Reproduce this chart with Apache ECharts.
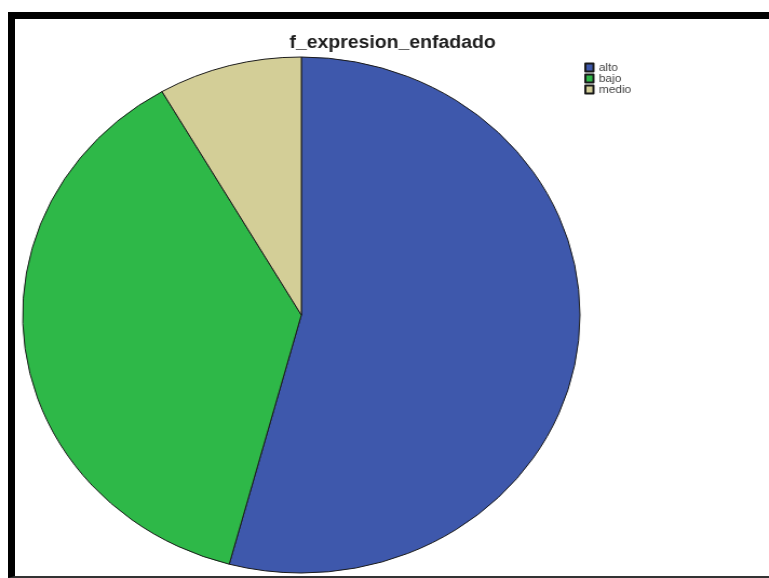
<!DOCTYPE html>
<html>
<head>
<meta charset="utf-8">
<script src="https://cdn.jsdelivr.net/npm/echarts@6/dist/echarts.min.js"></script>
<style>
  html, body { margin: 0; padding: 0; background: #ffffff; width: 769px; height: 578px; overflow: hidden; }
  #wrap { position: absolute; left: 0; top: 0; width: 769px; height: 578px; overflow: hidden; }
  #chart { position: absolute; left: 0; top: 0; width: 712px; height: 578px; transform: scaleX(1.08); transform-origin: 0 0; }
  #frame { position: absolute; left: 8px; top: 12px; width: 800px; height: 566px; box-sizing: border-box;
           border-left: 7px solid #000; border-top: 7px solid #000; border-bottom: 2px solid #333; pointer-events: none; }
</style>
</head>
<body>
<div id="wrap">
  <div id="chart"></div>
  <div id="frame"></div>
</div>
<script>
// Data
const chartTitle = 'f_expresion_enfadado';
const categories = ['alto', 'bajo', 'medio'];
const counts = [13, 9, 2];
const sliceColors = ['#3e58ac', '#2eb848', '#d3ce97'];

const chart = echarts.init(document.getElementById('chart'), null, { renderer: 'canvas' });

const pieData = categories.map((name, i) => ({
  name: name,
  value: counts[i],
  itemStyle: { color: sliceColors[i] }
}));

chart.setOption({
  animation: false,
  backgroundColor: 'transparent',
  title: {
    text: chartTitle,
    left: 268,
    top: 34,
    padding: 0,
    textStyle: {
      fontFamily: '"Liberation Sans", Arial, sans-serif',
      fontWeight: 'bold',
      fontSize: 18,
      color: '#1e1e1e'
    }
  },
  legend: {
    orient: 'vertical',
    left: 541,
    top: 62,
    padding: 0,
    itemWidth: 7.5,
    itemHeight: 8,
    itemGap: 0,
    icon: 'rect',
    selectedMode: false,
    data: categories,
    textStyle: {
      fontFamily: '"Liberation Sans", Arial, sans-serif',
      fontSize: 11,
      lineHeight: 9,
      color: '#444'
    }
  },
  series: [{
    type: 'pie',
    center: [279, 315],
    radius: [0, 258],
    startAngle: 90,
    clockwise: true,
    avoidLabelOverlap: false,
    label: { show: false },
    labelLine: { show: false },
    emphasis: { disabled: true },
    itemStyle: { borderColor: '#1a1a1a', borderWidth: 1 },
    data: pieData
  }]
});
</script>
</body>
</html>
